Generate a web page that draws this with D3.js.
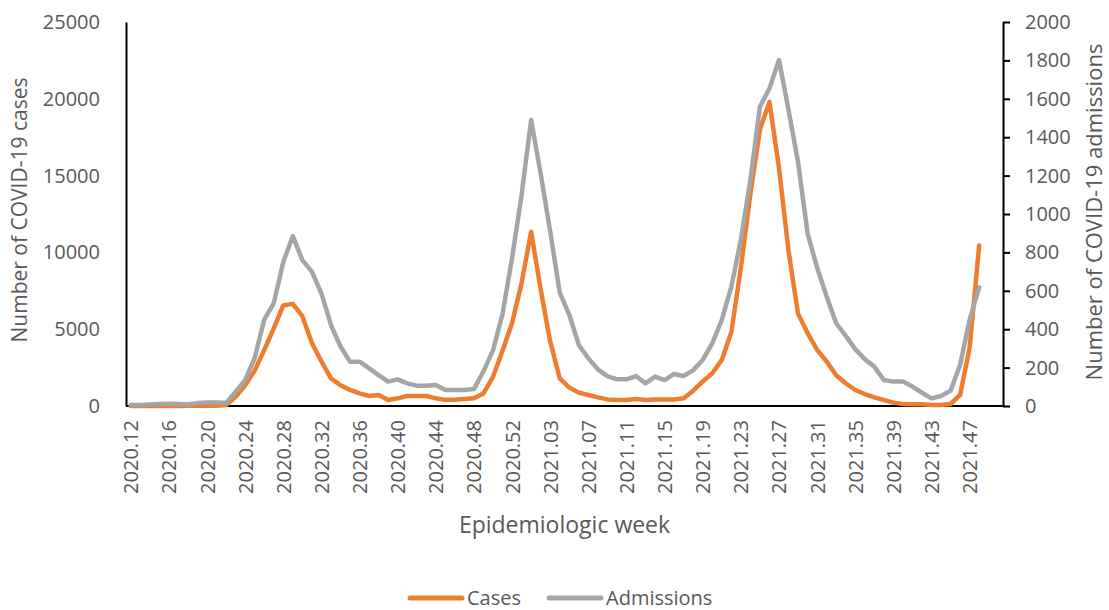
<!DOCTYPE html>
<html>
<head>
<meta charset="utf-8">
<script src="https://cdn.jsdelivr.net/npm/d3@7"></script>
<style>
  body { margin: 0; background: #fff; }
  text { font-family: "Open Sans", "Noto Sans", sans-serif; fill: #595959; }
</style>
</head>
<body>
<svg id="chart" width="1109" height="610"></svg>
<script>
// weekly data, 2020.12 .. 2021.48 (categories run on to 2021.50)
const cases = [
  0, 0, 0, 0, 0, 5, 10, 15, 20, 20, 60,
  600, 1350, 2300, 3650, 5050, 6550, 6650, 5850, 4100, 2900,
  1800, 1350, 1050, 820, 650, 720, 390, 500, 650, 650,
  650, 500, 400, 400, 450, 500, 820, 1900, 3600, 5400,
  8000, 11350, 7600, 4200, 1800, 1200, 870, 720, 560, 430,
  390, 390, 450, 390, 430, 430, 430, 500, 1000, 1600,
  2130, 3000, 4800, 9000, 13800, 18000, 19800, 15500, 10100, 6000,
  4750, 3650, 2900, 2000, 1480, 1040, 780, 560, 390, 220,
  130, 110, 110, 65, 65, 130, 720, 3800, 10450
];
const admissions = [
  5, 5, 8, 10, 12, 10, 8, 15, 18, 18, 15,
  75, 135, 250, 450, 535, 750, 885, 760, 700, 587,
  422, 310, 231, 231, 196, 161, 127, 139, 118, 106,
  106, 109, 83, 83, 83, 88, 180, 290, 480, 770,
  1100, 1490, 1210, 910, 590, 475, 318, 248, 191, 156,
  139, 139, 156, 118, 153, 135, 167, 156, 187, 240,
  326, 448, 621, 865, 1177, 1559, 1654, 1802, 1542, 1270,
  899, 720, 570, 431, 365, 296, 244, 205, 135, 127,
  127, 101, 69, 40, 52, 80, 214, 450, 618
];
const caseTicks = [0, 5000, 10000, 15000, 20000, 25000];
const admTicks = [0, 200, 400, 600, 800, 1000, 1200, 1400, 1600, 1800, 2000];

// category labels
const weeks = [];
for (let w = 12; w <= 53; w++) weeks.push("2020." + String(w).padStart(2, "0"));
for (let w = 1; w <= 50; w++) weeks.push("2021." + String(w).padStart(2, "0"));
const weekLabels = weeks.filter((d, i) => i % 4 == 0);

const svg = d3.select("#chart");
const plotLeft = 126, plotRight = 1003, plotTop = 22, plotBottom = 406;

const x = d3.scalePoint().domain(weeks).range([plotLeft, plotRight]).padding(0.5);
const yCases = d3.scaleLinear().domain([0, 25000]).range([plotBottom, plotTop]);
const yAdm = d3.scaleLinear().domain([0, 2000]).range([plotBottom, plotTop]);

// left axis
const gl = svg.append("g").attr("transform", "translate(" + plotLeft + ",0)")
  .call(d3.axisLeft(yCases).tickValues(caseTicks).tickSize(0).tickPadding(26).tickFormat(d3.format("d")));
gl.select(".domain").attr("stroke", "#000").attr("stroke-width", 2);
gl.selectAll("text").style("font-size", "20px").attr("fill", "#595959");

// right axis
const gr = svg.append("g").attr("transform", "translate(" + plotRight + ",0)")
  .call(d3.axisRight(yAdm).tickValues(admTicks).tickSize(7).tickSizeOuter(0).tickPadding(15).tickFormat(d3.format("d")));
gr.select(".domain").attr("stroke", "#000").attr("stroke-width", 2);
gr.selectAll(".tick line").attr("stroke", "#000").attr("stroke-width", 2);
gr.selectAll("text").style("font-size", "20px").attr("fill", "#595959");

// bottom axis
const gb = svg.append("g").attr("transform", "translate(0," + plotBottom + ")")
  .call(d3.axisBottom(x).tickValues(weekLabels).tickSize(0).tickSizeOuter(0));
gb.select(".domain").attr("stroke", "#000").attr("stroke-width", 2).attr("d", "M" + plotLeft + ",0H" + plotRight);
gb.selectAll("text")
  .style("font-size", "20px")
  .attr("fill", "#595959")
  .attr("text-anchor", "end")
  .attr("transform", "translate(0,14) rotate(-90)")
  .attr("x", 0).attr("y", 0).attr("dy", "0.35em");

// lines
const caseLine = d3.line().x((d, i) => x(weeks[i])).y(d => yCases(d));
const admLine = d3.line().x((d, i) => x(weeks[i])).y(d => yAdm(d));

svg.append("path").datum(cases)
  .attr("d", caseLine)
  .attr("fill", "none").attr("stroke", "#ED7D31").attr("stroke-width", 4.5)
  .attr("stroke-linejoin", "round").attr("stroke-linecap", "round");
svg.append("path").datum(admissions)
  .attr("d", admLine)
  .attr("fill", "none").attr("stroke", "#A5A5A5").attr("stroke-width", 4.5)
  .attr("stroke-linejoin", "round").attr("stroke-linecap", "round");

// axis titles
svg.append("text").attr("transform", "translate(27,210) rotate(-90)")
  .attr("text-anchor", "middle").style("font-size", "21px").text("Number of COVID-19 cases");
svg.append("text").attr("transform", "translate(1102,212) rotate(-90)")
  .attr("text-anchor", "middle").style("font-size", "22px").text("Number of COVID-19 admissions");
svg.append("text").attr("x", (plotLeft + plotRight) / 2).attr("y", 533)
  .attr("text-anchor", "middle").style("font-size", "23px").text("Epidemiologic week");

// legend
const legend = [
  { name: "Cases", color: "#ED7D31", x: 410 },
  { name: "Admissions", color: "#A5A5A5", x: 549 }
];
const lg = svg.append("g");
legend.forEach(d => {
  lg.append("line").attr("x1", d.x).attr("x2", d.x + 52).attr("y1", 598).attr("y2", 598)
    .attr("stroke", d.color).attr("stroke-width", 5).attr("stroke-linecap", "round");
  lg.append("text").attr("x", d.x + 57).attr("y", 605).style("font-size", "20px").text(d.name);
});
</script>
</body>
</html>
